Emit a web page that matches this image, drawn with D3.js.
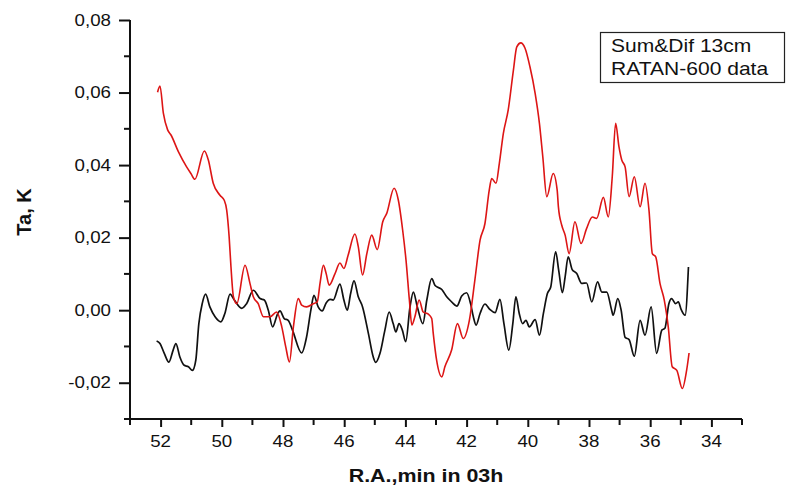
<!DOCTYPE html>
<html>
<head>
<meta charset="utf-8">
<script src="https://cdn.jsdelivr.net/npm/d3@7/dist/d3.min.js"></script>
<style>
  html, body { margin: 0; padding: 0; background: #fff; }
  svg { display: block; }
  text { font-family: "Liberation Sans", Arial, sans-serif; fill: #111; }
</style>
</head>
<body>
<svg id="chart" width="788" height="486"></svg>
<script>
// Sum (red) and difference (black) scans, antenna temperature vs right ascension
const raSum = [52.10,52.02,51.91,51.77,51.66,51.42,51.15,51.01,50.88,50.57,50.44,50.28,50.06,49.92,49.84,49.76,49.70,49.62,49.51,49.24,49.08,48.97,48.81,48.64,48.42,48.21,48.04,47.91,47.79,47.66,47.50,47.39,47.23,47.01,46.88,46.79,46.68,46.59,46.49,46.30,46.14,46.01,45.87,45.65,45.54,45.40,45.26,45.10,44.92,44.74,44.61,44.37,44.23,44.09,43.98,43.87,43.79,43.69,43.55,43.42,43.25,43.14,43.09,42.98,42.81,42.71,42.49,42.30,42.11,41.91,41.73,41.56,41.40,41.26,41.18,41.04,40.93,40.80,40.64,40.47,40.36,40.23,40.09,39.93,39.76,39.62,39.51,39.38,39.17,39.04,39.00,38.89,38.78,38.65,38.46,38.26,38.08,37.89,37.75,37.53,37.37,37.24,37.13,37.02,36.93,36.82,36.69,36.52,36.33,36.17,36.04,35.93,35.82,35.68,35.54,35.41,35.28,35.13,34.95,34.81,34.73];
const taSum = [0.0601,0.0618,0.0543,0.0497,0.0483,0.0437,0.0395,0.0377,0.0361,0.0439,0.0414,0.0350,0.0317,0.0303,0.0276,0.0202,0.0119,0.0037,0.0018,0.0124,0.0074,0.0037,0.0018,-0.0018,-0.0018,-0.0005,-0.0046,-0.0101,-0.0143,-0.0046,0.0032,0.0014,0.0009,0.0018,0.0023,0.0074,0.0124,0.0101,0.0069,0.0101,0.0130,0.0115,0.0152,0.0210,0.0175,0.0097,0.0156,0.0207,0.0167,0.0244,0.0267,0.0336,0.0303,0.0221,0.0138,0.0028,-0.0041,-0.0018,0.0028,-0.0005,-0.0011,-0.0023,-0.0064,-0.0138,-0.0184,-0.0156,-0.0110,-0.0037,-0.0078,-0.0028,0.0083,0.0193,0.0239,0.0331,0.0363,0.0350,0.0405,0.0487,0.0552,0.0662,0.0726,0.0737,0.0722,0.0671,0.0598,0.0515,0.0423,0.0313,0.0377,0.0331,0.0285,0.0234,0.0207,0.0156,0.0244,0.0184,0.0225,0.0257,0.0253,0.0311,0.0257,0.0368,0.0515,0.0450,0.0414,0.0395,0.0313,0.0368,0.0285,0.0350,0.0276,0.0156,0.0147,0.0074,0.0028,-0.0046,-0.0156,-0.0166,-0.0216,-0.0166,-0.0118];

const raDif = [52.13,52.02,51.88,51.73,51.59,51.50,51.37,51.23,51.09,50.96,50.85,50.75,50.64,50.53,50.39,50.22,50.03,49.90,49.73,49.59,49.35,49.19,48.97,48.75,48.61,48.48,48.34,48.17,48.10,47.96,47.83,47.69,47.39,47.23,47.09,46.99,46.85,46.72,46.59,46.46,46.36,46.14,46.01,45.90,45.79,45.68,45.54,45.40,45.21,45.05,44.97,44.83,44.67,44.53,44.40,44.31,44.21,44.10,43.99,43.85,43.74,43.61,43.43,43.30,43.14,43.03,42.81,42.65,42.49,42.32,42.16,42.00,41.87,41.78,41.69,41.56,41.40,41.24,41.07,40.91,40.78,40.62,40.49,40.39,40.28,40.17,40.06,39.95,39.76,39.62,39.49,39.36,39.25,39.09,38.99,38.87,38.78,38.68,38.55,38.40,38.24,38.08,37.91,37.72,37.58,37.42,37.26,37.21,37.06,36.95,36.82,36.69,36.52,36.33,36.17,35.97,35.79,35.62,35.52,35.39,35.30,35.17,35.08,34.99,34.86,34.75];
const taDif = [-0.0085,-0.0092,-0.0119,-0.0143,-0.0110,-0.0092,-0.0129,-0.0152,-0.0156,-0.0166,-0.0138,-0.0037,0.0018,0.0044,0.0009,-0.0018,-0.0032,-0.0009,0.0044,0.0028,0.0005,0.0018,0.0055,0.0032,0.0028,0.0000,-0.0046,-0.0009,-0.0002,-0.0023,-0.0028,-0.0055,-0.0118,-0.0074,0.0000,0.0041,0.0009,-0.0002,0.0020,0.0030,0.0028,0.0072,0.0028,0.0000,0.0046,0.0081,0.0037,0.0009,-0.0064,-0.0129,-0.0144,-0.0119,-0.0055,-0.0005,-0.0037,-0.0060,-0.0037,-0.0055,-0.0087,0.0009,0.0050,0.0009,-0.0037,0.0028,0.0087,0.0068,0.0057,0.0037,0.0023,0.0011,0.0039,0.0048,0.0018,-0.0018,-0.0041,-0.0009,0.0017,0.0002,-0.0007,0.0030,-0.0037,-0.0110,-0.0037,0.0037,-0.0009,-0.0037,-0.0028,-0.0046,-0.0026,-0.0069,-0.0009,0.0046,0.0064,0.0161,0.0110,0.0048,0.0092,0.0147,0.0112,0.0101,0.0074,0.0075,0.0023,0.0078,0.0050,0.0050,0.0000,-0.0014,0.0032,0.0000,-0.0075,-0.0081,-0.0127,-0.0028,-0.0069,0.0009,-0.0119,-0.0055,-0.0050,0.0018,0.0032,0.0018,0.0023,0.0002,-0.0014,0.0119];

const yTickValues = [-0.02, 0.00, 0.02, 0.04, 0.06, 0.08];
const xTickValues = [52, 50, 48, 46, 44, 42, 40, 38, 36, 34];
const legendLines = ["Sum&Dif 13cm", "RATAN-600 data"];
const xTitle = "R.A.,min in 03h";
const yTitle = "Ta, K";

const svg = d3.select("#chart");
const plotLeft = 130, plotRight = 742, plotTop = 20, plotBottom = 419;

const x = d3.scaleLinear().domain([53, 33]).range([plotLeft, plotRight]);
const y = d3.scaleLinear().domain([-0.03, 0.08]).range([plotBottom, plotTop]);

const fmt = v => d3.format(".2f")(v).replace(".", ",").replace("\u2212", "-");

// horizontally stretched text helper
function label(g, tx, ty, str, opts) {
  return g.append("text")
    .attr("transform", `translate(${tx},${ty}) scale(${opts.sx || 1},1)`)
    .attr("text-anchor", opts.anchor || "start")
    .attr("dominant-baseline", opts.baseline || "auto")
    .style("font-size", opts.size + "px")
    .style("font-weight", opts.bold ? "bold" : "normal")
    .text(str);
}

// curves
const sumData = raSum.map((r, i) => [r, taSum[i]]);
const difData = raDif.map((r, i) => [r, taDif[i]]);
const line = d3.line().x(d => x(d[0])).y(d => y(d[1])).curve(d3.curveMonotoneX);

svg.append("path").datum(difData)
  .attr("d", line).attr("fill", "none")
  .attr("stroke", "#111").attr("stroke-width", 1.7).attr("stroke-linejoin", "round");
svg.append("path").datum(sumData)
  .attr("d", line).attr("fill", "none")
  .attr("stroke", "#dd1515").attr("stroke-width", 1.6).attr("stroke-linejoin", "round");

// y axis
const yAxis = d3.axisLeft(y).tickValues(yTickValues).tickSize(11).tickFormat("");
const gy = svg.append("g").attr("transform", `translate(${plotLeft},0)`).call(yAxis);
const yMinor = d3.range(-0.03, 0.0801, 0.01).filter(v => !yTickValues.some(t => Math.abs(t - v) < 1e-6));
gy.selectAll(".minor").data(yMinor).enter().append("line")
  .attr("x1", -6).attr("x2", 0).attr("y1", d => y(d)).attr("y2", d => y(d))
  .attr("stroke", "#111").attr("stroke-width", 2);
gy.select(".domain").attr("d", `M0,${plotTop}V${plotBottom}`).attr("stroke", "#111").attr("stroke-width", 2);
gy.selectAll(".tick line").attr("stroke", "#111").attr("stroke-width", 2);
yTickValues.forEach(v => label(svg, 111, y(v), fmt(v), { size: 16, sx: 1.17, anchor: "end", baseline: "central" }));

// x axis
const xAxis = d3.axisBottom(x).tickValues(xTickValues).tickSize(8).tickFormat("");
const gx = svg.append("g").attr("transform", `translate(0,${plotBottom})`).call(xAxis);
const xMinor = d3.range(33, 54, 1).filter(v => !xTickValues.includes(v));
gx.selectAll(".minor").data(xMinor).enter().append("line")
  .attr("x1", d => x(d)).attr("x2", d => x(d)).attr("y1", 0).attr("y2", 6)
  .attr("stroke", "#111").attr("stroke-width", 2);
gx.select(".domain").attr("d", `M${plotLeft - 1},0H${plotRight}`).attr("stroke", "#111").attr("stroke-width", 2);
gx.selectAll(".tick line").attr("stroke", "#111").attr("stroke-width", 2);
xTickValues.forEach(v => label(svg, x(v), 447, String(v), { size: 16, sx: 1.17, anchor: "middle" }));

// axis titles
label(svg, 426, 482, xTitle, { size: 18, sx: 1.19, anchor: "middle", bold: true });
svg.append("text")
  .attr("transform", `translate(31,212) rotate(-90)`)
  .attr("text-anchor", "middle")
  .style("font-size", "20px").style("font-weight", "bold")
  .text(yTitle);

// legend box
svg.append("rect").attr("x", 600.5).attr("y", 32.5).attr("width", 184).attr("height", 50)
  .attr("fill", "#fff").attr("stroke", "#222").attr("stroke-width", 1.2);
label(svg, 611, 52, legendLines[0], { size: 18, sx: 1.17 });
label(svg, 611, 75, legendLines[1], { size: 18, sx: 1.17 });
</script>
</body>
</html>
